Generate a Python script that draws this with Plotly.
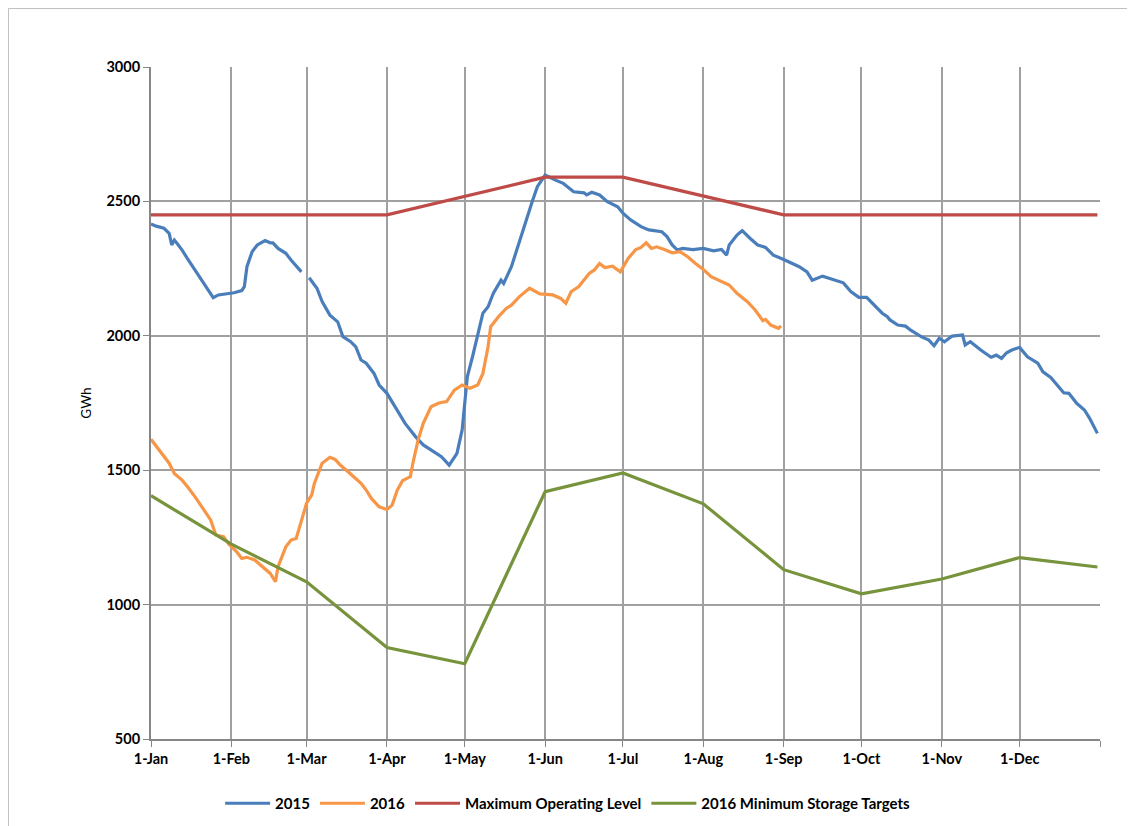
import pandas as pd
import plotly.graph_objects as go

# day offsets from 1-Jan
days_2015 = [0, 2, 5, 7, 8, 9, 10, 12, 14, 17, 19, 21, 24, 26, 29, 32, 35, 36, 37, 39, 41, 44, 46, 47, 49, 52, 54, 58,
             59, 61, 64, 66, 69, 72, 74, 77, 79, 81, 83, 86, 88, 91, 94, 98, 102, 105, 109, 112, 115, 118, 120, 121,
             122, 124, 126, 128, 130, 132, 135, 136, 139, 141, 143, 145, 147, 149, 152, 156, 159, 163, 167, 168, 170,
             173, 176, 180, 182, 185, 189, 192, 197, 199, 201, 203, 205, 209, 213, 217, 220, 222, 223, 226, 228, 231,
             234, 237, 240, 244, 246, 250, 253, 255, 259, 263, 267, 270, 273, 276, 279, 282, 284, 285, 288, 291, 293,
             297, 300, 302, 304, 306, 309, 313, 314, 316, 320, 324, 326, 328, 330, 332, 335, 338, 342, 344, 347, 349,
             352, 354, 357, 360, 362, 365]
gwh_2015 = [2416, 2408, 2400, 2381, 2338, 2356, 2344, 2319, 2288, 2245, 2214, 2183, 2142, 2152, 2155, 2160, 2168, 2183,
            2257, 2313, 2338, 2354, 2346, 2346, 2325, 2307, 2282, 2238,
            None, 2216, 2177, 2127, 2077, 2052, 1997, 1978, 1959, 1910, 1898, 1860, 1817, 1786, 1736, 1674, 1625, 1594,
            1569, 1550, 1519, 1563, 1650, 1761, 1848, 1922, 1997, 2084, 2108, 2158, 2207, 2195, 2257, 2319, 2381, 2437,
            2499, 2555, 2598, 2579, 2567, 2536, 2532, 2524, 2534, 2524, 2499, 2480, 2456, 2431, 2406, 2394, 2387, 2369,
            2338, 2319, 2325, 2321, 2325, 2316, 2321, 2300, 2338, 2375, 2391, 2363, 2338, 2329, 2300, 2284, 2276, 2257,
            2238, 2207, 2222, 2210, 2197, 2164, 2143, 2143, 2114, 2084, 2071, 2059, 2040, 2036, 2021, 1997, 1984, 1963,
            1991, 1978, 1999, 2003, 1966, 1978, 1947, 1920, 1928, 1916, 1937, 1947, 1957, 1922, 1898, 1866, 1845, 1823,
            1788, 1786, 1749, 1724, 1693, 1637]

days_2016 = [0, 3, 7, 9, 12, 14, 17, 20, 23, 25, 28, 30, 33, 35, 37, 40, 43, 46, 48, 49, 52, 54, 56, 58, 60, 62, 63, 66,
             69, 71, 73, 77, 81, 83, 85, 88, 91, 93, 95, 97, 100, 101, 103, 105, 108, 111, 114, 117, 120, 123, 126, 128,
             130, 131, 134, 137, 139, 142, 146, 150, 155, 158, 160, 162, 165, 169, 171, 173, 175, 178, 181, 184, 187,
             189, 191, 193, 195, 198, 201, 204, 207, 210, 213, 216, 220, 223, 226, 230, 233, 236, 237, 239, 242, 243]
gwh_2016 = [1615, 1575, 1526, 1488, 1463, 1439, 1401, 1358, 1315, 1259, 1253, 1225, 1197, 1172, 1176, 1166, 1141, 1116,
            1085, 1141, 1215, 1240, 1246, 1315, 1377, 1408, 1451, 1526, 1548, 1540, 1519, 1486, 1451, 1426, 1395, 1364,
            1354, 1370, 1426, 1461, 1476, 1526, 1612, 1674, 1736, 1750, 1755, 1798, 1817, 1805, 1817, 1860, 1959, 2034,
            2071, 2102, 2114, 2145, 2177, 2156, 2152, 2139, 2121, 2164, 2183, 2232, 2245, 2269, 2254, 2259, 2238, 2288,
            2321, 2329, 2346, 2325, 2331, 2321, 2309, 2313, 2294, 2269, 2247, 2220, 2201, 2189, 2158, 2127, 2096, 2056,
            2061, 2040, 2028, 2037]

max_dates = ["2016-01-01", "2016-04-01", "2016-06-01", "2016-07-01", "2016-09-01", "2016-12-31"]
max_level = [2450, 2450, 2590, 2590, 2450, 2450]

min_dates = ["2016-01-01", "2016-02-01", "2016-03-01", "2016-04-01", "2016-05-01", "2016-06-01", "2016-07-01",
             "2016-08-01", "2016-09-01", "2016-10-01", "2016-11-01", "2016-12-01", "2016-12-31"]
min_target = [1405, 1225, 1085, 840, 780, 1420, 1490, 1375, 1130, 1040, 1095, 1175, 1140]

month_ticks = pd.date_range("2016-01-01", "2017-01-01", freq="MS")
month_labels = ["1-Jan", "1-Feb", "1-Mar", "1-Apr", "1-May", "1-Jun", "1-Jul", "1-Aug", "1-Sep", "1-Oct", "1-Nov",
                "1-Dec", ""]

start = pd.Timestamp("2016-01-01")
x15 = [start + pd.Timedelta(days=d) for d in days_2015]
x16 = [start + pd.Timedelta(days=d) for d in days_2016]

fig = go.Figure()
fig.add_trace(go.Scatter(x=x15, y=gwh_2015, name="2015", mode="lines", line=dict(color="#4a7ebb", width=3.2)))
fig.add_trace(go.Scatter(x=x16, y=gwh_2016, name="2016", mode="lines", line=dict(color="#f79646", width=3.2)))
fig.add_trace(go.Scatter(x=max_dates, y=max_level, name="Maximum Operating Level", mode="lines",
                         line=dict(color="#be4b48", width=3.2)))
fig.add_trace(go.Scatter(x=min_dates, y=min_target, name="2016 Minimum Storage Targets", mode="lines",
                         line=dict(color="#77933c", width=3.2)))

bold = dict(family="Lato, Arial, sans-serif", size=14.5, color="#000000", weight="bold")

# the page body adds 8px, margins are set so the plot box lands where the original one is
fig.update_layout(
    width=1135, height=826,
    margin=dict(l=143, r=43, t=59, b=95),
    paper_bgcolor="white", plot_bgcolor="white",
    showlegend=True,
    legend=dict(orientation="h", x=0.439, xanchor="center", y=-0.096, yanchor="middle",
                font=dict(family="Lato, Arial, sans-serif", size=15, color="#000000", weight="bold"),
                itemwidth=45, tracegroupgap=0),
    shapes=[
        dict(type="line", xref="paper", yref="paper", x0=-0.1502, x1=1.2, y0=1.087, y1=1.087,
             line=dict(color="#bfbfbf", width=1)),
        dict(type="line", xref="paper", yref="paper", x0=-0.1502, x1=-0.1502, y0=1.087, y1=-0.2,
             line=dict(color="#bfbfbf", width=1)),
    ],
)
fig.update_xaxes(
    range=[month_ticks[0], month_ticks[-1]],
    tickvals=month_ticks, ticktext=month_labels,
    tickfont=bold, ticks="outside", ticklen=6, tickcolor="#868686",
    showgrid=True, gridcolor="#a0a0a0", gridwidth=1.5,
    showline=True, linecolor="#868686", linewidth=2,
    zeroline=False,
)
fig.update_yaxes(
    range=[500, 3000], dtick=500,
    tickfont=bold, ticks="outside", ticklen=6, tickcolor="#868686",
    showgrid=True, gridcolor="#a0a0a0", gridwidth=1.5,
    showline=True, linecolor="#868686", linewidth=2,
    zeroline=False,
    title=dict(text="GWh", font=dict(family="Lato, Arial, sans-serif", size=13.5, color="#000000"), standoff=12),
)

fig.write_html("out.html")
